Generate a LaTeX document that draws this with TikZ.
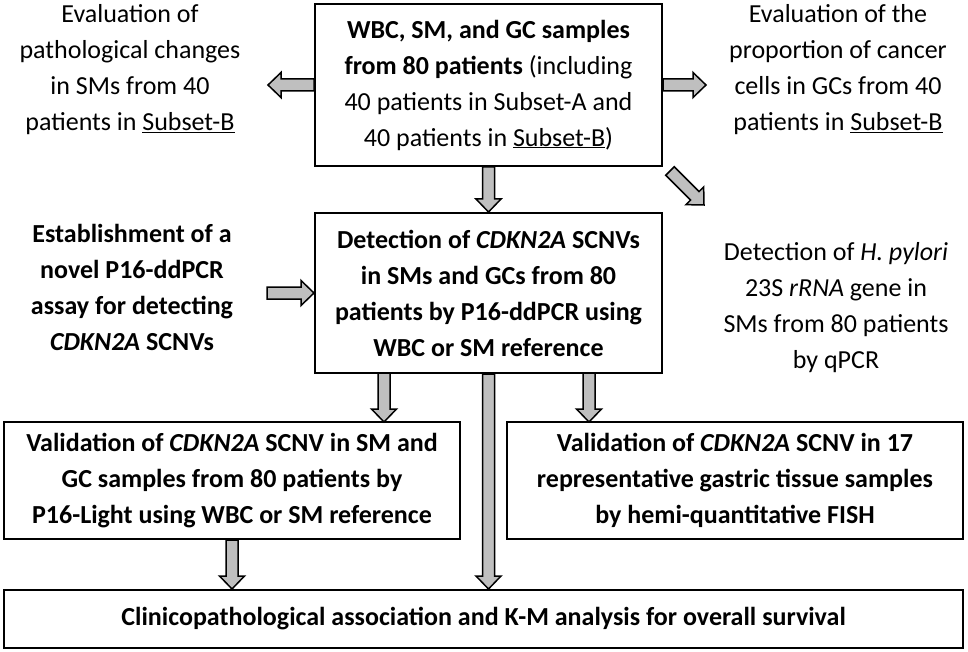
\documentclass[tikz,border=0pt]{standalone}
\usepackage{fontspec}
\setmainfont{Carlito}
\usetikzlibrary{calc}

\tikzset{
  every node/.style={font=\fontsize{26}{36}\selectfont},
  box/.style={draw, line width=2pt, align=center, inner sep=0pt},
  note/.style={align=center, inner sep=0pt},
  arrowbody/.style={draw, fill=gray!50, line width=1.5pt, line join=miter}
}

% block arrow from #1 to #2 (names of nodes anchors / coordinates)
\newcommand{\fatarrow}[2]{%
  \path ($(#2)!13pt!(#1)$) coordinate (hd);
  \filldraw[arrowbody] ($(#1)!6pt!90:(#2)$) -- ($(hd)!6pt!90:(#2)$)
    -- ($(hd)!12.5pt!90:(#2)$) -- (#2) -- ($(hd)!12.5pt!-90:(#2)$)
    -- ($(hd)!6pt!-90:(#2)$) -- ($(#1)!6pt!-90:(#2)$) -- cycle;}

\begin{document}
\begin{tikzpicture}[x=1pt, y=-1pt]
\useasboundingbox (0,0) rectangle (968,652);

\node[box, minimum width=347, minimum height=162](top) at (488.5,85)
  {\textbf{WBC, SM, and GC samples}\\ \textbf{from 80 patients} (including\\ 40 patients in Subset-A and\\ 40 patients in \underline{Subset-B})};
\node[box, minimum width=347, minimum height=160](mid) at (488.5,293)
  {\textbf{Detection of \textit{CDKN2A} SCNVs}\\ \textbf{in SMs and GCs from 80}\\ \textbf{patients by P16-ddPCR using}\\ \textbf{WBC or SM reference}};
\node[box, minimum width=456, minimum height=117](light) at (232,480.5)
  {\textbf{Validation of \textit{CDKN2A} SCNV in SM and}\\ \textbf{GC samples from 80 patients by}\\ \textbf{P16-Light using WBC or SM reference}};
\node[box, minimum width=456, minimum height=117](fish) at (735,480.5)
  {\textbf{Validation of \textit{CDKN2A} SCNV in 17}\\ \textbf{representative gastric tissue samples}\\ \textbf{by hemi-quantitative FISH}};
\node[box, minimum width=959, minimum height=58](surv) at (483.5,619)
  {\textbf{Clinicopathological association and K-M analysis for overall survival}};

\node[note](patho) at (130,70)
  {Evaluation of\\ pathological changes\\ in SMs from 40\\ patients in \underline{Subset-B}};
\node[note](prop) at (838,70)
  {Evaluation of the\\ proportion of cancer\\ cells in GCs from 40\\ patients in \underline{Subset-B}};
\node[note](assay) at (132,287)
  {\textbf{Establishment of a}\\ \textbf{novel P16-ddPCR}\\ \textbf{assay for detecting}\\ \textbf{\textit{CDKN2A} SCNVs}};
\node[note](hp) at (836,308)
  {Detection of \textit{H. pylori}\\ 23S \textit{rRNA} gene in\\ SMs from 80 patients\\ by qPCR};

\coordinate (pathoin) at (268,85);
\coordinate (propin) at (706,85);
\coordinate (hpout) at (670,171);
\coordinate (hpin) at (704,205);
\coordinate (assayout) at (267,293);
\coordinate (lightout) at (384,373);
\coordinate (lightin) at (384,422);
\coordinate (fishout) at (589,373);
\coordinate (fishin) at (589,422);

\fatarrow{top.west}{pathoin}
\fatarrow{top.east}{propin}
\fatarrow{top.south}{mid.north}
\fatarrow{hpout}{hpin}
\fatarrow{assayout}{mid.west}
\fatarrow{lightout}{lightin}
\fatarrow{fishout}{fishin}
\fatarrow{mid.south}{mid.south |- surv.north}
\fatarrow{light.south}{light.south |- surv.north}
\end{tikzpicture}
\end{document}
